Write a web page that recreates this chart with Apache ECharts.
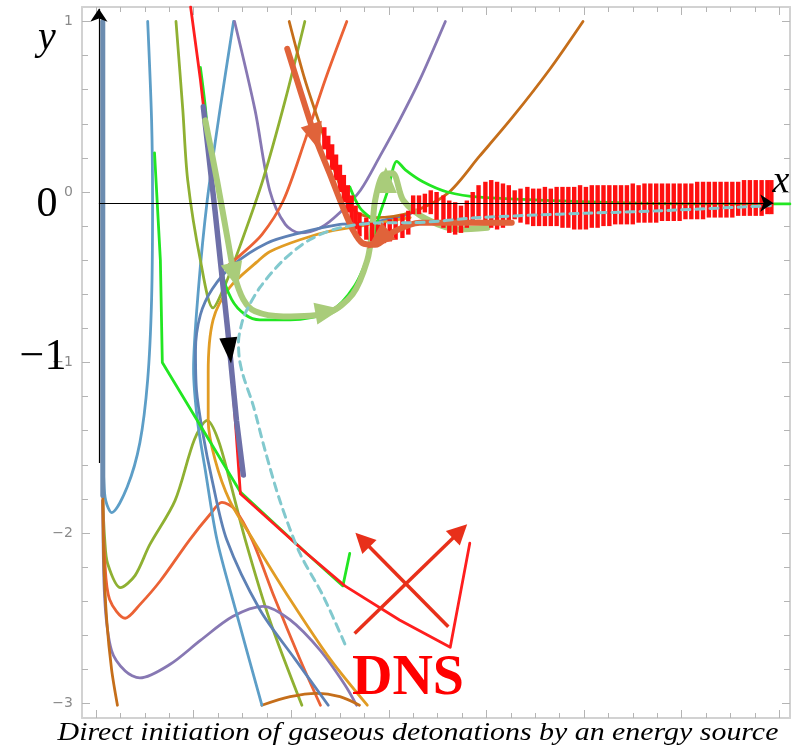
<!DOCTYPE html>
<html>
<head>
<meta charset="utf-8">
<script src="https://cdn.jsdelivr.net/npm/echarts@6/dist/echarts.min.js"></script>
<style>
  html, body { margin: 0; padding: 0; background: #fff; }
  #main { width: 793px; height: 750px; }
</style>
</head>
<body>
<div id="main"></div>
<script>
// axis range (x ticks have no labels, one major tick = 1 unit)
var XMIN = -0.143, XMAX = 7.111, YMIN = -3.085, YMAX = 1.085;
var yLabels = [-3, -2, -1, 0, 1];

// thin solution curves
var vertX = [0.07, 0.07];
var vertY = [1.0, -1.78];

var lbUX = [0.53, 0.57, 0.58, 0.57, 0.53, 0.45, 0.32, 0.16, 0.10, 0.08, 0.07];
var lbUY = [1.0, 0.42, -0.05, -0.63, -1.10, -1.47, -1.73, -1.88, -1.81, -1.69, -1.45];

var olAX = [0.07, 0.09, 0.12, 0.25, 0.40, 0.55, 0.81, 1.01, 1.14, 1.25, 1.37, 1.53, 1.78, 2.11];
var olAY = [-1.81, -2.04, -2.18, -2.32, -2.25, -2.07, -1.81, -1.45, -1.34, -1.45, -1.69, -2.04, -2.51, -3.01];

var roAX = [0.07, 0.09, 0.14, 0.30, 0.45, 0.66, 0.96, 1.17, 1.29, 1.42, 1.60, 1.83, 2.09, 2.30];
var roAY = [-1.81, -2.16, -2.39, -2.50, -2.42, -2.28, -2.04, -1.89, -1.82, -1.86, -2.04, -2.38, -2.74, -3.01];

var puAX = [0.07, 0.09, 0.16, 0.30, 0.45, 0.76, 1.07, 1.40, 1.71, 1.99, 2.30, 2.55, 2.67];
var puAY = [-1.81, -2.39, -2.69, -2.81, -2.85, -2.77, -2.63, -2.49, -2.43, -2.51, -2.69, -2.89, -3.01];

var brAX = [0.07, 0.08, 0.11, 0.16, 0.22];
var brAY = [-1.75, -2.16, -2.51, -2.80, -3.01];

var brBX = [1.70, 1.99, 2.26, 2.50, 2.70];
var brBY = [-3.01, -2.96, -2.94, -2.96, -3.01];

var lbCX = [1.41, 1.27, 1.14, 1.05, 1.00, 1.04, 1.12, 1.24, 1.43, 1.70];
var lbCY = [1.0, 0.48, -0.05, -0.57, -1.04, -1.34, -1.63, -2.04, -2.45, -3.01];

var puBX = [1.42, 1.63, 1.78, 1.94, 2.09, 2.30, 2.50, 2.71, 2.91, 3.11, 3.32, 3.58];
var puBY = [1.0, 0.48, 0.01, -0.19, -0.24, -0.21, -0.12, 0.01, 0.21, 0.42, 0.66, 1.0];

var olBX = [0.82, 0.89, 0.94, 1.07, 1.20, 1.32, 1.48, 1.71, 1.94, 2.14];
var olBY = [1.0, 0.48, 0.07, -0.40, -0.68, -0.55, -0.31, 0.07, 0.54, 1.0];

var blAX = [3.22, 2.81, 2.50, 2.09, 1.75, 1.40, 1.19, 1.07, 1.02, 1.03, 1.09, 1.19, 1.34, 1.68, 2.04, 2.38];
var blAY = [-0.13, -0.18, -0.19, -0.24, -0.30, -0.43, -0.57, -0.72, -0.93, -1.16, -1.40, -1.69, -2.04, -2.45, -2.74, -3.01];

var orAX = [3.22, 2.81, 2.40, 2.09, 1.78, 1.65, 1.37, 1.20, 1.15, 1.15, 1.22, 1.37, 1.61, 1.99, 2.40, 2.78];
var orAY = [-0.15, -0.19, -0.23, -0.28, -0.35, -0.41, -0.56, -0.75, -1.06, -1.34, -1.57, -1.81, -2.04, -2.39, -2.74, -3.01];

var roBX = [2.57, 2.35, 2.14, 1.92, 1.70, 1.48, 1.29];
var roBY = [1.0, 0.66, 0.30, -0.05, -0.25, -0.37, -0.46];

var brCX = [1.98, 2.14, 2.32, 2.50, 2.65, 2.86, 3.22, 3.60, 3.93, 4.27, 4.65, 4.99];
var brCY = [1.0, 0.66, 0.35, 0.04, -0.11, -0.15, -0.12, -0.01, 0.21, 0.44, 0.72, 1.0];

// highlighted paths
var redX = [0.97, 1.07, 1.20, 1.29, 1.36, 1.42, 1.48, 2.16, 2.55, 3.11, 3.63, 3.83];
var redY = [1.085, 0.66, 0.01, -0.52, -0.87, -1.28, -1.77, -2.12, -2.31, -2.51, -2.67, -2.06];

var limeAX = [0.60, 0.66, 0.68, 1.48, 2.16, 2.53, 2.60];
var limeAY = [0.23, -0.40, -1.00, -1.76, -2.12, -2.31, -2.12];

var limeBX = [1.07, 1.12, 1.20, 1.29, 1.39, 1.53, 1.68, 1.99, 2.40, 2.65, 2.81, 2.89, 2.99, 3.04, 3.08, 3.17, 3.35, 3.60, 3.93, 5.16, 6.19, 7.11];
var limeBY = [0.73, 0.50, 0.01, -0.46, -0.63, -0.72, -0.75, -0.75, -0.70, -0.55, -0.34, -0.16, 0.01, 0.13, 0.18, 0.13, 0.06, 0.0, -0.03, -0.06, -0.07, -0.07];

var limeCX = [2.60, 2.70, 2.81];
var limeCY = [0.03, -0.09, -0.15];

var pbX = [1.10, 1.22, 1.35, 1.44, 1.51];
var pbY = [0.50, -0.11, -0.81, -1.34, -1.66];

var lgX = [1.12, 1.24, 1.35, 1.42, 1.51, 1.63, 1.92, 2.37, 2.63, 2.78, 2.83, 2.86, 2.94, 3.04, 3.15, 3.39, 3.73, 4.01];
var lgY = [0.42, 0.07, -0.28, -0.49, -0.63, -0.70, -0.73, -0.71, -0.60, -0.40, -0.22, -0.05, 0.10, 0.11, -0.05, -0.16, -0.22, -0.21];

var otX = [1.96, 2.09, 2.26, 2.40, 2.53, 2.63, 2.73, 2.86, 3.06, 3.32, 3.83, 4.26];
var otY = [0.84, 0.60, 0.30, 0.10, -0.09, -0.22, -0.30, -0.31, -0.23, -0.18, -0.18, -0.18];

var dashX = [2.55, 2.32, 2.09, 1.89, 1.73, 1.61, 1.51, 1.47, 1.46, 1.49, 1.53, 1.68, 1.92, 2.19, 2.50, 2.94, 3.22, 3.93, 4.75, 5.78, 6.91];
var dashY = [-2.65, -2.36, -2.12, -1.82, -1.51, -1.25, -1.08, -0.98, -0.88, -0.78, -0.71, -0.56, -0.40, -0.28, -0.21, -0.18, -0.18, -0.15, -0.13, -0.11, -0.08];

// DNS oscillation: [x, low, high] of each stroke
var zig = [
  [2.34, 0.25, 0.38], [2.38, 0.19, 0.33], [2.42, 0.13, 0.28], [2.46, 0.07, 0.22],
  [2.50, 0.00, 0.16], [2.54, -0.06, 0.10], [2.58, -0.12, 0.04], [2.62, -0.18, -0.02],
  [2.66, -0.22, -0.08], [2.70, -0.26, -0.12], [2.77, -0.28, -0.15], [2.83, -0.29, -0.18],
  [2.89, -0.31, -0.19], [2.95, -0.30, -0.18], [3.01, -0.29, -0.16], [3.07, -0.28, -0.15],
  [3.14, -0.27, -0.13], [3.20, -0.25, -0.11],
  [3.25, -0.13, -0.02], [3.31, -0.13, -0.02], [3.37, -0.12, -0.01], [3.43, -0.13, 0.01],
  [3.49, -0.18, 0.00], [3.56, -0.21, -0.02], [3.62, -0.24, -0.05], [3.68, -0.25, -0.06],
  [3.74, -0.24, -0.08], [3.80, -0.21, -0.05], [3.86, -0.18, 0.00], [3.92, -0.16, 0.04],
  [3.99, -0.19, 0.06], [4.05, -0.21, 0.07], [4.11, -0.22, 0.06], [4.17, -0.21, 0.05],
  [4.23, -0.19, 0.04], [4.29, -0.16, 0.01], [4.35, -0.18, 0.02], [4.42, -0.19, 0.03],
  [4.48, -0.20, 0.02], [4.54, -0.20, 0.02], [4.60, -0.20, 0.03], [4.66, -0.20, 0.02],
  [4.72, -0.20, 0.03], [4.78, -0.21, 0.03], [4.84, -0.21, 0.03], [4.90, -0.22, 0.03],
  [4.96, -0.22, 0.04], [5.02, -0.22, 0.03], [5.08, -0.21, 0.04], [5.14, -0.21, 0.04],
  [5.20, -0.20, 0.04], [5.26, -0.20, 0.04], [5.32, -0.19, 0.04], [5.38, -0.19, 0.04],
  [5.44, -0.19, 0.04], [5.50, -0.19, 0.05], [5.56, -0.18, 0.04], [5.62, -0.18, 0.05],
  [5.68, -0.18, 0.05], [5.74, -0.18, 0.05], [5.80, -0.17, 0.05], [5.86, -0.17, 0.05],
  [5.92, -0.17, 0.05], [5.98, -0.17, 0.05], [6.04, -0.16, 0.05], [6.10, -0.16, 0.05],
  [6.16, -0.16, 0.06], [6.22, -0.16, 0.06], [6.28, -0.15, 0.06], [6.34, -0.15, 0.06],
  [6.40, -0.15, 0.06], [6.46, -0.15, 0.06], [6.52, -0.15, 0.06], [6.58, -0.14, 0.06],
  [6.64, -0.14, 0.07], [6.70, -0.14, 0.07], [6.76, -0.14, 0.07], [6.82, -0.14, 0.07],
  [6.88, -0.13, 0.07], [6.92, -0.13, 0.07]
];

// arrow heads on the trajectories: [x, y, rotate]
var headBlack = [[1.37, -0.93, 186]];
var headOrange = [[2.25, 0.32, 198], [2.89, -0.28, 130]];
var headGreen = [[1.42, -0.49, 194], [2.38, -0.70, -80], [2.97, 0.07, 0]];

// straight arrows
var axisArrows = [[[0.03, -1.59], [0.03, 1.075]], [[0.03, -0.065], [6.94, -0.065]]];
var dnsArrows = [[[2.65, -2.59], [3.73, -1.99]], [[3.61, -2.55], [2.73, -2.04]]];

function pts(xs, ys) { return xs.map(function (x, i) { return [x, ys[i]]; }); }

function curve(xs, ys, color, width, smooth, z, dash) {
  return {
    type: 'line', data: pts(xs, ys), symbol: 'none', smooth: smooth, z: z, silent: true,
    lineStyle: { color: color, width: width, type: dash || 'solid', cap: 'round', join: 'round' }
  };
}

function heads(list, color, size) {
  return {
    type: 'scatter', z: 20, silent: true, symbol: 'triangle', symbolSize: size,
    data: list.map(function (d) { return { value: [d[0], d[1]], symbolRotate: d[2] }; }),
    itemStyle: { color: color, opacity: 1 }
  };
}

var xMajor = [], xMinor = [], yMajor = yLabels.slice(), yMinor = [];
for (var k = 0; k <= 28; k++) { if (k % 4 === 0) xMajor.push(k / 4); else xMinor.push(k / 4); }
for (var m = -15; m <= 5; m++) { if (m % 5 !== 0) yMinor.push(m / 5); }

var frame = { color: '#d2d2d2', width: 2 };
var tickC = { color: '#b4b4b4', width: 1 };

function xAx(pos, vals, len, line) {
  return {
    type: 'value', min: XMIN, max: XMAX, position: pos,
    axisLine: { show: line, onZero: false, lineStyle: frame },
    axisTick: { show: true, inside: true, length: len, customValues: vals, lineStyle: tickC },
    axisLabel: { show: false }, splitLine: { show: false }
  };
}
function yAx(pos, vals, len, line, labels) {
  return {
    type: 'value', min: YMIN, max: YMAX, position: pos,
    axisLine: { show: line, onZero: false, lineStyle: frame },
    axisTick: { show: true, inside: true, length: len, customValues: vals, lineStyle: tickC },
    axisLabel: labels ? {
      show: true, customValues: yLabels, color: '#8a8a8a', fontSize: 14, margin: 9,
      fontFamily: 'DejaVu Sans',
      formatter: function (v) { return String(v).replace('-', '\u2212'); }
    } : { show: false },
    splitLine: { show: false }
  };
}

var TW = 2.8; // thin curve width

var chart = echarts.init(document.getElementById('main'));
var option = {
  animation: false,
  backgroundColor: '#fff',
  grid: { left: 82, right: 3, top: 7, bottom: 32 },
  xAxis: [xAx('bottom', xMajor, 8, true), xAx('bottom', xMinor, 5, false),
          xAx('top', xMajor, 8, true), xAx('top', xMinor, 5, false)],
  yAxis: [yAx('left', yMajor, 8, true, true), yAx('left', yMinor, 6, false, false),
          yAx('right', yMajor, 8, true, false), yAx('right', yMinor, 6, false, false)],
  series: [
    curve(lbUX, lbUY, '#5D9EC7', TW, 0.3, 2),
    curve(olAX, olAY, '#8FB032', TW, 0.3, 2),
    curve(roAX, roAY, '#EB6235', TW, 0.3, 2),
    curve(puAX, puAY, '#8778B3', TW, 0.3, 2),
    curve(brAX, brAY, '#C56E1A', TW, 0.3, 2),
    curve(brBX, brBY, '#C56E1A', TW, 0.3, 2),
    curve(lbCX, lbCY, '#5D9EC7', TW, 0.3, 2),
    curve(puBX, puBY, '#8778B3', TW, 0.3, 2),
    curve(olBX, olBY, '#8FB032', TW, 0.3, 2),
    curve(blAX, blAY, '#5E81B5', TW, 0.3, 2),
    curve(orAX, orAY, '#E19C24', TW, 0.3, 2),
    curve(roBX, roBY, '#EB6235', TW, 0.3, 2),
    curve(brCX, brCY, '#C56E1A', TW, 0.3, 2),
    curve(vertX, vertY, '#6B8CB0', 5, false, 3),
    curve(limeAX, limeAY, '#22E622', 2.8, false, 4),
    curve(limeBX, limeBY, '#22E622', 2.8, 0.3, 4),
    curve(limeCX, limeCY, '#22E622', 2.8, 0.3, 4),
    curve(redX, redY, '#FF1E1E', 2.8, false, 5),
    curve(pbX, pbY, '#6E70A8', 5.5, false, 6),
    curve(lgX, lgY, '#A9CC7A', 6, 0.3, 7),
    {
      type: 'custom', z: 8, silent: true, data: zig,
      encode: { x: 0, y: [1, 2] },
      renderItem: function (params, api) {
        var a = api.coord([api.value(0), api.value(1)]);
        var b = api.coord([api.value(0), api.value(2)]);
        return {
          type: 'line', shape: { x1: a[0], y1: a[1], x2: b[0], y2: b[1] },
          style: { stroke: '#FF1010', lineWidth: 4.4 }
        };
      }
    },
    curve(otX, otY, '#E0633A', 6, 0.3, 9),
    curve(dashX, dashY, '#82C9CE', 3, 0.3, 10, [8, 6]),
    heads(headBlack, '#000', [18, 26]),
    heads(headOrange, '#E0633A', [22, 28]),
    heads(headGreen, '#A9CC7A', [22, 26]),
    {
      type: 'lines', coordinateSystem: 'cartesian2d', z: 21, silent: true,
      symbol: ['none', 'arrow'], symbolSize: 13,
      lineStyle: { color: '#000', width: 1.2, opacity: 1 },
      data: axisArrows.map(function (c) { return { coords: c }; })
    },
    {
      type: 'lines', coordinateSystem: 'cartesian2d', z: 21, silent: true,
      symbol: ['none', 'triangle'], symbolSize: 20,
      lineStyle: { color: '#E8301A', width: 3.5, opacity: 1 },
      data: dnsArrows.map(function (c) { return { coords: c }; })
    }
  ],
  graphic: [
    { type: 'text', x: 47, y: 38, z: 30, style: { text: 'y', fontSize: 40, fontStyle: 'italic', fontFamily: 'Liberation Serif', fill: '#000', align: 'center', verticalAlign: 'middle' } },
    { type: 'text', x: 47, y: 205, z: 30, style: { text: '0', fontSize: 42, fontFamily: 'Liberation Serif', fill: '#000', align: 'center', verticalAlign: 'middle' } },
    { type: 'text', x: 43, y: 357, z: 30, style: { text: '\u22121', fontSize: 44, fontFamily: 'Liberation Serif', fill: '#000', align: 'center', verticalAlign: 'middle' } },
    { type: 'text', x: 781, y: 182, z: 30, style: { text: 'x', fontSize: 38, fontStyle: 'italic', fontFamily: 'Liberation Serif', fill: '#000', align: 'center', verticalAlign: 'middle' } },
    { type: 'text', x: 408, y: 680, z: 30, style: { text: 'DNS', fontSize: 56, fontWeight: 'bold', fontFamily: 'Liberation Serif', fill: '#FF0000', align: 'center', verticalAlign: 'middle' } },
    { type: 'text', x: 418, y: 733, z: 30, scaleX: 1.15, style: { text: 'Direct initiation of gaseous detonations by an energy source', fontSize: 26, fontStyle: 'italic', fontFamily: 'Liberation Serif', fill: '#000', align: 'center', verticalAlign: 'middle' } }
  ]
};
chart.setOption(option);
</script>
</body>
</html>
